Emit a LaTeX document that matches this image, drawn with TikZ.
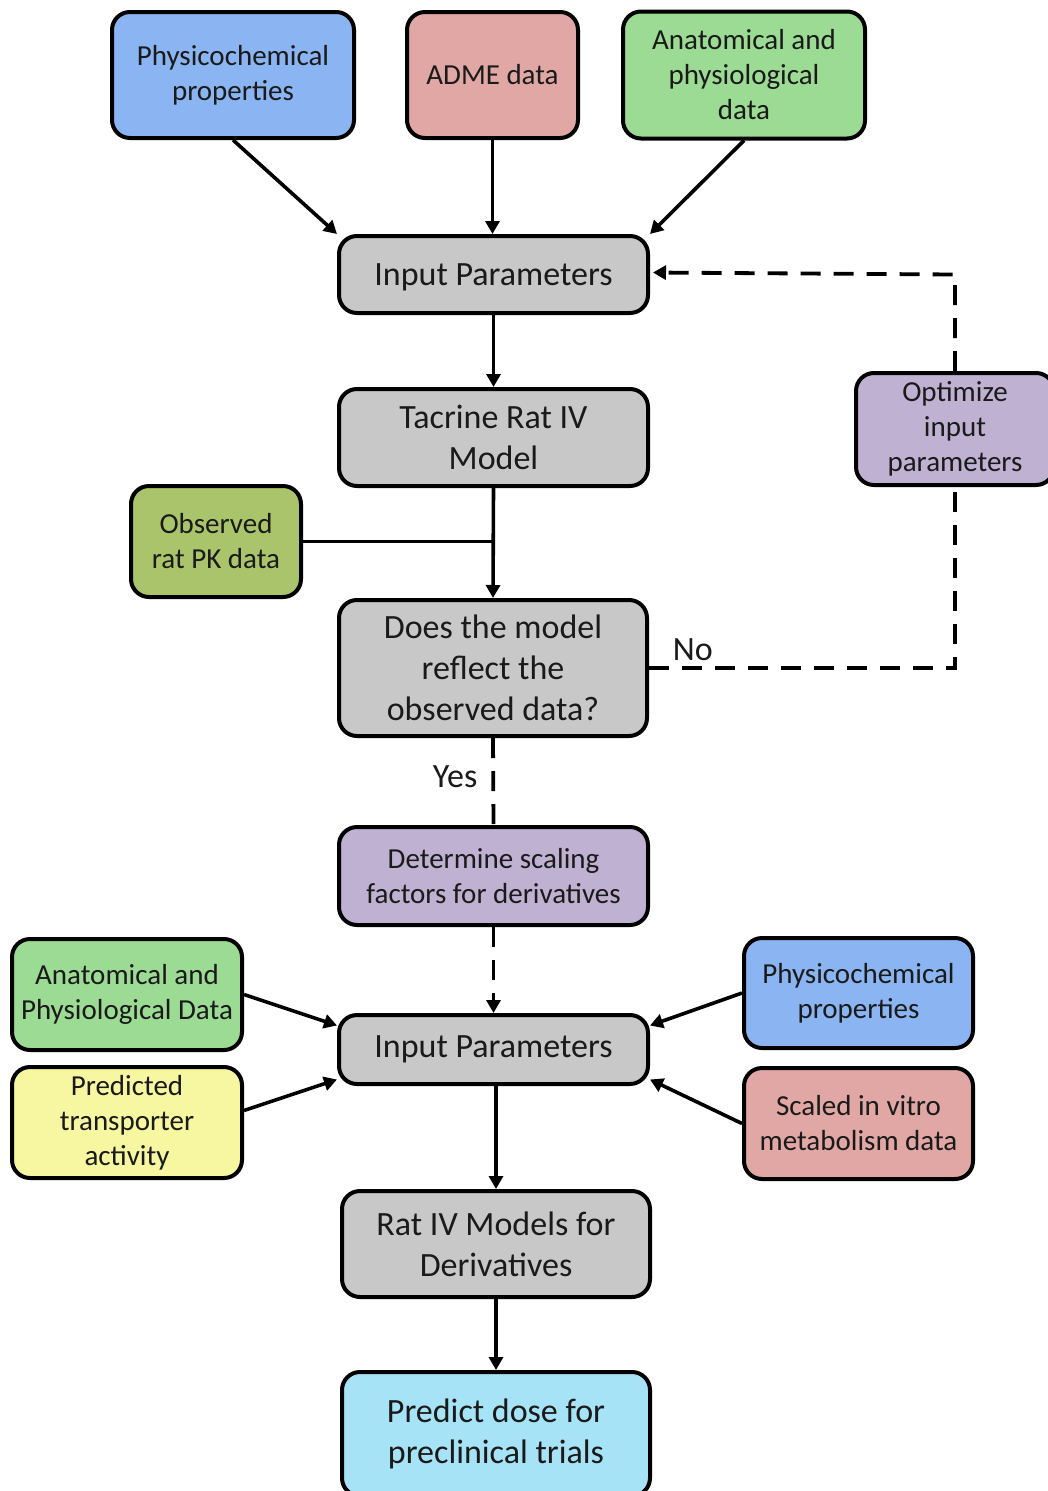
\documentclass[tikz,border=0pt]{standalone}
\usepackage{fontspec}
\setmainfont{Carlito}
\usetikzlibrary{arrows.meta}
\definecolor{cblue}{HTML}{8AB4F2}
\definecolor{cpink}{HTML}{E0A7A5}
\definecolor{cgreen}{HTML}{9CDB94}
\definecolor{cgray}{HTML}{C8C8C8}
\definecolor{colive}{HTML}{A9C46A}
\definecolor{cpurple}{HTML}{BFB1D1}
\definecolor{cyellow}{HTML}{F6F7A0}
\definecolor{ccyan}{HTML}{A7E3F7}
\definecolor{ctext}{HTML}{1A1A1A}
\tikzset{
  box/.style={draw=black, line width=4pt, rounded corners=18pt, align=center, inner sep=0pt, text=ctext},
  small/.style={font=\fontsize{29}{35}\selectfont},
  big/.style={font=\fontsize{34}{41}\selectfont},
  tip/.style={-{Triangle[length=13pt,width=14pt]}},
  arr/.style={line width=3.6pt, tip},
  plain/.style={line width=3.6pt},
  dsh/.style={line width=3.8pt, dash pattern=on 20pt off 13pt},
  lbl/.style={font=\fontsize{34}{41}\selectfont, text=ctext}
}
\begin{document}
\begin{tikzpicture}[x=1pt,y=-1pt]
\useasboundingbox[fill=white] (0,0) rectangle (1047,1491);
% top inputs
\node[box, small, fill=cblue, minimum width=242pt, minimum height=126pt] (phys1) at (233,75) {Physicochemical\\properties};
\node[box, small, fill=cpink, minimum width=171pt, minimum height=126pt] (adme) at (492.5,75) {ADME data};
\node[box, small, fill=cgreen, minimum width=242pt, minimum height=127pt] (anat1) at (744,75) {Anatomical and\\physiological\\data};
% main column
\node[box, big, fill=cgray, minimum width=309pt, minimum height=77pt, text depth=0pt] (ip1) at (493.5,274.5) {Input Parameters};
\node[box, big, fill=cgray, minimum width=309pt, minimum height=97pt] (tac) at (493.5,437.5) {Tacrine Rat IV\\Model};
\node[box, small, fill=colive, minimum width=170pt, minimum height=111pt] (obs) at (216,541.5) {Observed\\rat PK data};
\node[box, big, fill=cgray, minimum width=308pt, minimum height=136pt] (does) at (493,668) {Does the model\\reflect the\\observed data?};
\node[box, small, fill=cpurple, minimum width=198pt, minimum height=112pt] (opt) at (955,429) {Optimize\\input\\parameters};
\node[box, small, fill=cpurple, minimum width=309pt, minimum height=98pt] (det) at (493.5,876) {Determine scaling\\factors for derivatives};
% lower inputs
\node[box, small, fill=cgreen, minimum width=230pt, minimum height=111pt] (anat2) at (127,994.5) {Anatomical and\\Physiological Data};
\node[box, small, fill=cyellow, minimum width=230pt, minimum height=111pt] (pred) at (127,1122.5) {Predicted\\transporter\\activity};
\node[box, big, fill=cgray, minimum width=309pt, minimum height=69pt] (ip2) at (493.5,1049.5) {Input Parameters};
\node[box, small, fill=cblue, minimum width=229pt, minimum height=110pt] (phys2) at (858.5,993) {Physicochemical\\properties};
\node[box, small, fill=cpink, minimum width=229pt, minimum height=111pt] (scaled) at (858.5,1123.5) {Scaled in vitro\\metabolism data};
\node[box, big, fill=cgray, minimum width=308pt, minimum height=106pt] (rat) at (496,1244) {Rat IV Models for\\Derivatives};
\node[box, big, fill=ccyan, minimum width=308pt, minimum height=124pt] (dose) at (496,1434) {Predict dose for\\preclinical trials};
% connectors
\draw[arr] (phys1.south) -- (ip1.north west);
\draw[arr] (adme.south) -- (adme.south |- ip1.north);
\draw[arr] (anat1.south) -- (ip1.north east);
\draw[arr] (ip1.south) -- (tac.north);
\draw[arr] (tac.south) -- (does.north);
\draw[plain] (obs.east) -- (obs.east -| tac.south);
\draw[dsh] (does.east) -- node[lbl, pos=0.143, above, inner sep=5pt] {No} (does.east -| opt.south) -- (opt.south);
\draw[dsh, tip, shorten >=3pt] (opt.north) -- (opt.north |- ip1.east) -- ([yshift=2pt]ip1.east);
\draw[dsh] (does.south) -- node[lbl, pos=0.45, left, inner sep=14pt] {Yes} (det.north);
\draw[dsh, tip] (det.south) -- (ip2.north);
\draw[arr] (anat2.east) -- ([yshift=24pt]ip2.west);
\draw[arr] ([yshift=12pt]pred.east) -- ([yshift=-30pt]ip2.west);
\draw[arr] (phys2.west) -- ([yshift=24pt]ip2.east);
\draw[arr] (scaled.west) -- ([yshift=-30pt]ip2.east);
\draw[arr] (rat.north |- ip2.south) -- (rat.north);
\draw[arr] (rat.south) -- (dose.north);
\end{tikzpicture}
\end{document}
